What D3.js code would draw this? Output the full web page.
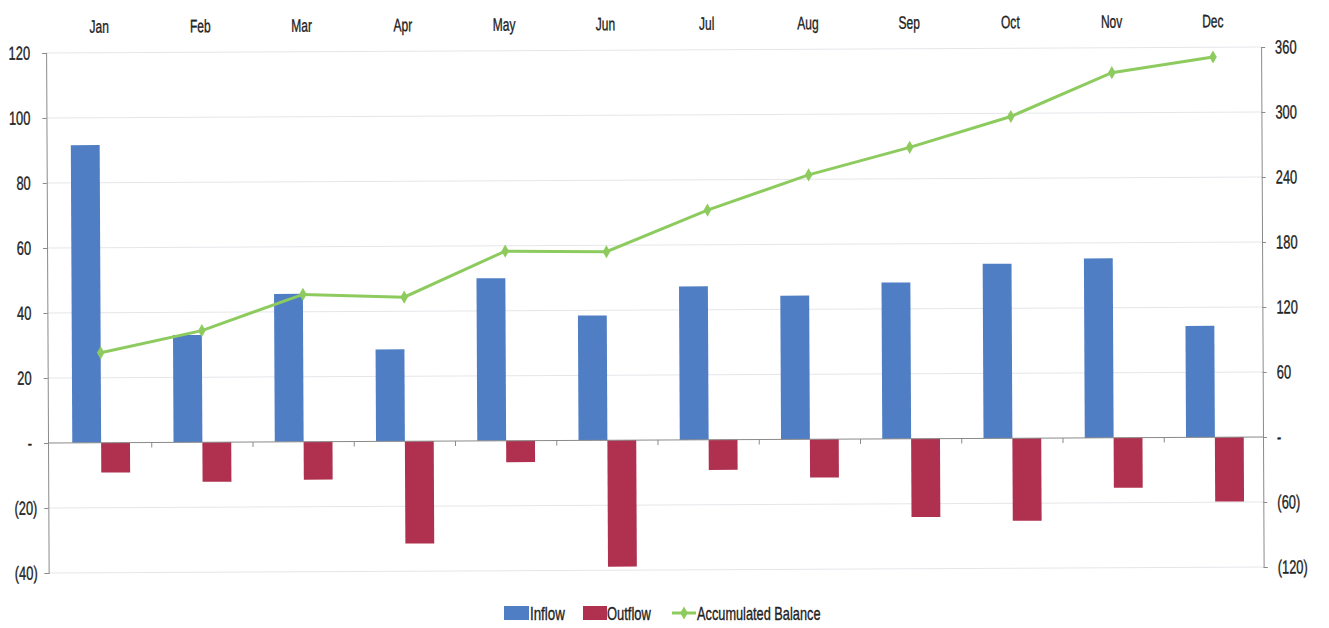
<!DOCTYPE html>
<html>
<head>
<meta charset="utf-8">
<script src="https://cdn.jsdelivr.net/npm/d3@7"></script>
<style>
  html, body { margin: 0; padding: 0; background: #fff; }
  svg { display: block; }
  text { font-family: "Liberation Sans", Arial, sans-serif; }
</style>
</head>
<body>
<svg id="chart" width="1329" height="628"></svg>
<script>
const months = ["Jan","Feb","Mar","Apr","May","Jun","Jul","Aug","Sep","Oct","Nov","Dec"];
const inflow  = [91.6, 33.0, 45.5, 28.3, 50.0, 38.4, 47.2, 44.2, 48.1, 53.7, 55.2, 34.3];
const outflow = [-9.2, -12.2, -11.7, -31.5, -6.6, -38.9, -9.3, -11.8, -24.1, -25.4, -15.4, -19.8];
const balance = [83, 103, 136, 133, 175, 174, 212, 244, 269, 297, 337, 351];
const leftTicks  = [-40, -20, 0, 20, 40, 60, 80, 100, 120];
const rightTicks = [-120, -60, 0, 60, 120, 180, 240, 300, 360];
const seriesNames = ["Inflow", "Outflow", "Accumulated Balance"];

const colors = { inflow: "#4F7EC4", outflow: "#B0314F", line: "#8DCB5F" };

const svg = d3.select("#chart");
const plot = { left: 48, right: 1263, top: 50, bottom: 570 };

// narrow (condensed) look of the original typeface
function narrow(sel, s) {
  sel.each(function() {
    const t = d3.select(this);
    const xv = +t.attr("x") || 0;
    t.attr("x", xv / s).attr("transform", `scale(${s},1)`)
     .attr("stroke", "#222").attr("stroke-width", 0.35);
  });
}

// whole chart slightly tilted as in the scanned reference
const g = svg.append("g").attr("transform", "rotate(-0.28, 655, 440)");

const x = d3.scaleBand().domain(months).range([plot.left + 2.5, plot.right + 2.5])
  .paddingInner(0.43).paddingOuter(0.215);
const xSub = d3.scaleBand().domain(["inflow","outflow"]).range([0, x.bandwidth()]).padding(0);
const yL = d3.scaleLinear().domain([-40, 120]).range([plot.bottom, plot.top]);
const yR = d3.scaleLinear().domain([-120, 360]).range([plot.bottom, plot.top]);

const fmt = v => v === 0 ? "-" : (v < 0 ? "(" + Math.abs(v) + ")" : String(v));

// gridlines
g.append("g").selectAll("line").data(leftTicks.filter(v => v !== 0)).join("line")
  .attr("x1", plot.left).attr("x2", plot.right)
  .attr("y1", d => yL(d)).attr("y2", d => yL(d))
  .attr("stroke", "#e4e6ea").attr("stroke-width", 1);

// left axis
const leftAxis = d3.axisLeft(yL).tickValues(leftTicks).tickSize(4).tickFormat(fmt);
const la = g.append("g").attr("transform", `translate(${plot.left},0)`).call(leftAxis);
la.select(".domain").attr("stroke", "#8a8a8a");
la.selectAll(".tick line").attr("stroke", "#8a8a8a");
la.selectAll(".tick text")
  .attr("x", d => d < 0 ? -11 : -16)
  .attr("font-size", 19).attr("fill", "#222").attr("font-family", null)
  .call(narrow, 0.68);

// right axis
const rightAxis = d3.axisRight(yR).tickValues(rightTicks).tickSize(4).tickFormat(fmt);
const ra = g.append("g").attr("transform", `translate(${plot.right},0)`).call(rightAxis);
ra.select(".domain").attr("stroke", "#8a8a8a");
ra.selectAll(".tick line").attr("stroke", "#8a8a8a");
ra.selectAll(".tick text").attr("x", 14).attr("font-size", 19).attr("fill", "#222")
  .attr("font-family", null)
  .call(narrow, 0.68);

// month labels on top
g.append("g").selectAll("text").data(months).join("text")
  .attr("x", d => x(d) + x.bandwidth() / 2)
  .attr("y", 30)
  .attr("text-anchor", "middle")
  .attr("font-size", 18).attr("fill", "#222")
  .text(d => d)
  .call(narrow, 0.67);

// bars
const rows = months.map((m, i) => ({ m, inflow: inflow[i], outflow: outflow[i] }));
const bars = g.append("g");
bars.selectAll("rect.in").data(rows).join("rect").attr("class", "in")
  .attr("x", d => x(d.m) + xSub("inflow"))
  .attr("width", xSub.bandwidth())
  .attr("y", d => yL(d.inflow))
  .attr("height", d => yL(0) - yL(d.inflow))
  .attr("fill", colors.inflow);
bars.selectAll("rect.out").data(rows).join("rect").attr("class", "out")
  .attr("x", d => x(d.m) + xSub("outflow"))
  .attr("width", xSub.bandwidth())
  .attr("y", yL(0))
  .attr("height", d => yL(d.outflow) - yL(0))
  .attr("fill", colors.outflow);

// zero axis line with category ticks
g.append("line").attr("x1", plot.left).attr("x2", plot.right)
  .attr("y1", yL(0)).attr("y2", yL(0)).attr("stroke", "#8a8a8a");
const step = x.step();
g.append("g").selectAll("line").data(months.slice(1)).join("line")
  .attr("x1", d => x(d) - step * 0.215).attr("x2", d => x(d) - step * 0.215)
  .attr("y1", yL(0)).attr("y2", yL(0) + 5)
  .attr("stroke", "#8a8a8a");

// accumulated balance line
const pts = months.map((m, i) => [x(m) + x.bandwidth() / 2, yR(balance[i])]);
g.append("path").datum(pts)
  .attr("d", d3.line())
  .attr("fill", "none").attr("stroke", colors.line).attr("stroke-width", 3);
const sym = d3.symbol().type(d3.symbolDiamond).size(50);
g.append("g").selectAll("path").data(pts).join("path")
  .attr("transform", d => `translate(${d[0]},${d[1]})`)
  .attr("d", sym).attr("fill", colors.line);

// legend
const lg = svg.append("g").attr("transform", "translate(0,613)");
lg.append("rect").attr("x", 504).attr("y", -7).attr("width", 25).attr("height", 14).attr("fill", colors.inflow);
lg.append("text").attr("x", 530).attr("y", 6.5).attr("font-size", 18).attr("fill", "#222").text(seriesNames[0]).call(narrow, 0.74);
lg.append("rect").attr("x", 583).attr("y", -7).attr("width", 24).attr("height", 14).attr("fill", colors.outflow);
lg.append("text").attr("x", 607).attr("y", 6.5).attr("font-size", 18).attr("fill", "#222").text(seriesNames[1]).call(narrow, 0.72);
lg.append("line").attr("x1", 672).attr("x2", 696).attr("y1", 0).attr("y2", 0)
  .attr("stroke", colors.line).attr("stroke-width", 3);
lg.append("path").attr("transform", "translate(684,0)").attr("d", sym).attr("fill", colors.line);
lg.append("text").attr("x", 697).attr("y", 6.5).attr("font-size", 18).attr("fill", "#222").text(seriesNames[2]).call(narrow, 0.71);
</script>
</body>
</html>
